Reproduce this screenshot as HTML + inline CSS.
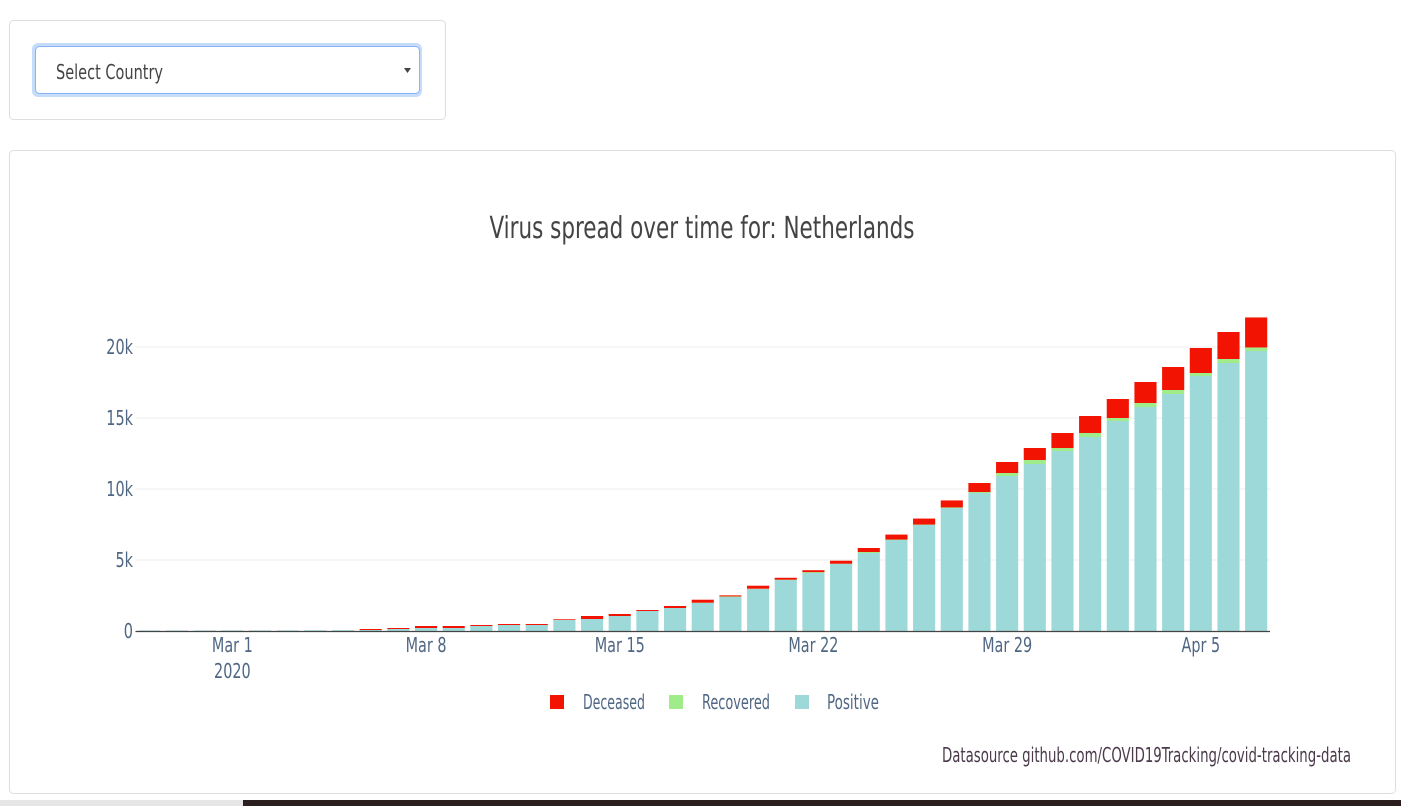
<!DOCTYPE html>
<html><head><meta charset="utf-8"><style>
body{margin:0;width:1401px;height:806px;background:#fff;overflow:hidden;position:relative;font-family:"Liberation Sans Narrow","DejaVu Sans Condensed","Liberation Sans",sans-serif}
svg{position:absolute;left:0;top:0}
text{font-family:"Liberation Sans Narrow","DejaVu Sans Condensed","Liberation Sans",sans-serif}
</style></head><body>
<svg width="1401" height="806" id="svg">
<rect x="9.5" y="20.5" width="436" height="99" rx="4" fill="#fff" stroke="#dedede"/>
<rect x="32" y="43" width="390" height="54" rx="6" fill="#c6dcfb"/>
<g>
<rect x="35.5" y="46.5" width="384" height="47" rx="4" fill="#fff" stroke="#86b4f5"/>
<text x="56" y="79" font-size="20" fill="#444" textLength="107" lengthAdjust="spacingAndGlyphs">Select Country</text>
<path d="M404 68h7l-3.5 5z" fill="#444"/>
</g>
<rect x="9.5" y="150.5" width="1386" height="643" rx="4" fill="#fff" stroke="#dedede"/>
<text x="702" y="238" font-size="30" fill="#444" text-anchor="middle" textLength="425" lengthAdjust="spacingAndGlyphs">Virus spread over time for: Netherlands</text>
<g id="grid"></g><g id="bars"></g><g id="axes"></g>
<g>
<rect x="550" y="695" width="14" height="14" fill="#f31302"/>
<text x="583" y="709" font-size="20" fill="#506784" textLength="62" lengthAdjust="spacingAndGlyphs">Deceased</text>
<rect x="669" y="695" width="14" height="14" fill="#a0eb8a"/>
<text x="702" y="709" font-size="20" fill="#506784" textLength="68" lengthAdjust="spacingAndGlyphs">Recovered</text>
<rect x="795" y="695" width="14" height="14" fill="#9ed9da"/>
<text x="827" y="709" font-size="20" fill="#506784" textLength="52" lengthAdjust="spacingAndGlyphs">Positive</text>
</g>
<text x="1351" y="762" font-size="20" fill="#4a3a4a" text-anchor="end" textLength="409" lengthAdjust="spacingAndGlyphs">Datasource github.com/COVID19Tracking/covid-tracking-data</text>
<rect x="0" y="800" width="243" height="6" fill="#e6e6e6"/>
<rect x="243" y="800" width="1158" height="6" fill="#2a1e1e"/>
</svg>
<script>
const dates=["Feb 27","Feb 28","Feb 29","Mar 1","Mar 2","Mar 3","Mar 4","Mar 5","Mar 6","Mar 7","Mar 8","Mar 9","Mar 10","Mar 11","Mar 12","Mar 13","Mar 14","Mar 15","Mar 16","Mar 17","Mar 18","Mar 19","Mar 20","Mar 21","Mar 22","Mar 23","Mar 24","Mar 25","Mar 26","Mar 27","Mar 28","Mar 29","Mar 30","Mar 31","Apr 1","Apr 2","Apr 3","Apr 4","Apr 5","Apr 6","Apr 7"];
const positive=[40,40,40,45,45,45,50,60,70,141,211,211,352,423,423,775,845,1056,1408,1620,1972,2394,2958,3592,4085,4718,5493,6408,7465,8662,9718,10915,11761,12676,13662,14789,15775,16690,17958,18873,19718];
const recovered=[0,0,0,0,0,0,0,0,0,0,0,0,0,0,0,0,0,0,0,0,20,40,20,20,60,20,70,30,30,40,70,211,282,211,282,211,282,282,211,282,250];
const deceased=[0,0,0,0,0,0,0,0,70,70,141,141,70,70,70,50,211,141,70,141,211,76,211,136,136,211,282,352,423,493,634,775,845,1056,1197,1338,1479,1620,1761,1901,2113];
const yTicks=[0,5000,10000,15000,20000];
const yTickLabels=["0","5k","10k","15k","20k"];
const xTickIdx=[3,10,17,24,31,38];
const xTickLabels=["Mar 1","Mar 8","Mar 15","Mar 22","Mar 29","Apr 5"];
const NS="http://www.w3.org/2000/svg";
const X0=135.5,X1=1270,Y0=631,Y20=347;
const n=dates.length, step=(X1-X0)/n;
const xs=i=>X0+step*(i+0.5);
const ys=v=>Y0-(Y0-Y20)*v/20000;
function mk(tag,attrs,parent){const e=document.createElementNS(NS,tag);for(const k in attrs)e.setAttribute(k,attrs[k]);parent.appendChild(e);return e;}
function narrow(t){const w=t.getComputedTextLength();t.setAttribute('textLength',(w*0.8).toFixed(1));t.setAttribute('lengthAdjust','spacingAndGlyphs');}
const grid=document.getElementById('grid'),bars=document.getElementById('bars'),axes=document.getElementById('axes');
yTicks.forEach((t,i)=>{
  if(t>0){const g=mk('line',{x1:X0,x2:X1,y1:ys(t),y2:ys(t),stroke:'#eeeeee'},grid);
  
  }
  const l=mk('text',{x:133,y:ys(t)+7,'font-size':20,fill:'#506784','text-anchor':'end'},axes);
  l.textContent=yTickLabels[i];
  
  
  narrow(l);
});
const bw=step*0.8;
for(let i=0;i<n;i++){
  const g=mk('g',{},bars);
  
  
  let base=0;
  [[positive[i],'#9ed9da'],[recovered[i],'#a0eb8a'],[deceased[i],'#f31302']].forEach(([v,c])=>{
    if(v>0){mk('rect',{x:xs(i)-bw/2,y:ys(base+v),width:bw,height:ys(base)-ys(base+v),fill:c},g);}
    base+=v;
  });
}
const ax=mk('line',{x1:X0,x2:X1,y1:Y0+0.5,y2:Y0+0.5,stroke:'#444','stroke-width':1.3},axes);


xTickIdx.forEach((idx,i)=>{
  const l=mk('text',{x:xs(idx),y:652,'font-size':20,fill:'#506784','text-anchor':'middle'},axes);
  l.textContent=xTickLabels[i];
  
  
  narrow(l);
});
const yr=mk('text',{x:xs(3),y:678,'font-size':20,fill:'#506784','text-anchor':'middle'},axes);
yr.textContent='2020';


narrow(yr);
</script>
</body></html>
